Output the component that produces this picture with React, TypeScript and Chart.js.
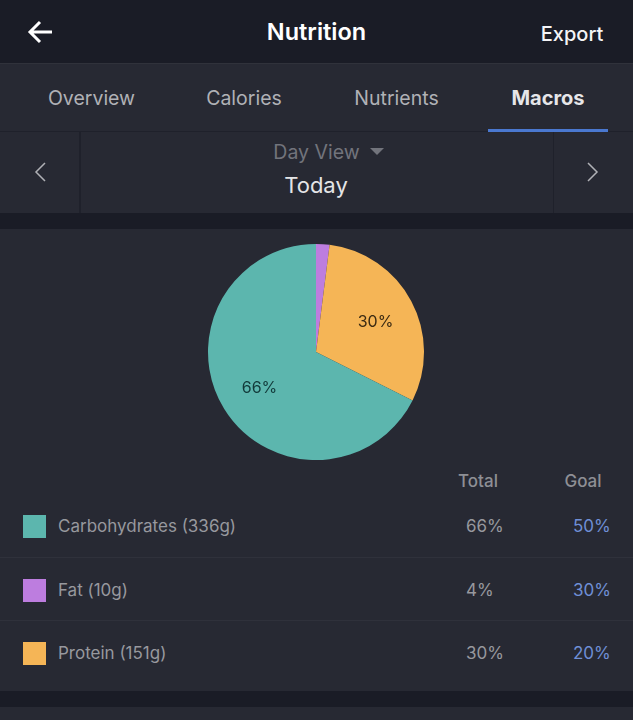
import React, { useEffect, useRef } from 'react';
import { Chart, registerables } from 'chart.js';

Chart.register(...registerables);

// slices are by grams, starting at 12 o'clock
const sliceNames = ['Fat', 'Protein', 'Carbohydrates'];
const sliceGrams = [10, 151, 336];
const sliceLabels = ['', '30%', '66%'];
const sliceColors = ['#bd7ddf', '#f5b556', '#5cb6ae'];

const rowNames = ['Carbohydrates (336g)', 'Fat (10g)', 'Protein (151g)'];
const rowColors = ['#5cb6ae', '#bd7ddf', '#f5b556'];
const rowTotals = ['66%', '4%', '30%'];
const rowGoals = ['50%', '30%', '20%'];

const tabs = ['Overview', 'Calories', 'Nutrients', 'Macros'];
const tabCenters = [91.5, 244, 396.5, 548];

const FONT = 'Inter, "Noto Sans", sans-serif';

const sliceLabelPlugin = {
  id: 'sliceLabels',
  afterDatasetsDraw(chart: any) {
    const { ctx } = chart;
    chart.getDatasetMeta(0).data.forEach((arc: any, i: number) => {
      if (!sliceLabels[i]) return;
      const { startAngle, endAngle, outerRadius, x, y } = arc.getProps(
        ['startAngle', 'endAngle', 'outerRadius', 'x', 'y'],
        true
      );
      const mid = (startAngle + endAngle) / 2;
      const r = outerRadius * 0.62;
      ctx.save();
      ctx.font = `16px ${FONT}`;
      ctx.fillStyle = i === 1 ? '#3a2a12' : '#123a3a';
      ctx.textAlign = 'center';
      ctx.textBaseline = 'middle';
      ctx.fillText(sliceLabels[i], x + Math.cos(mid) * r + 0.5, y + Math.sin(mid) * r + 1.5);
      ctx.restore();
    });
  },
};

const Text = ({ x, y, size, color, weight = 400, center = false, children }: any) => (
  <div
    style={{
      position: 'absolute',
      left: x,
      top: y - 20,
      height: 40,
      lineHeight: '40px',
      fontSize: size,
      fontWeight: weight,
      color,
      whiteSpace: 'nowrap',
      transform: center ? 'translateX(-50%)' : undefined,
    }}
  >
    {children}
  </div>
);

const Box = ({ x, y, w, h, color }: any) => (
  <div style={{ position: 'absolute', left: x, top: y, width: w, height: h, background: color }} />
);

const App: React.FC = () => {
  const chartRef = useRef<HTMLCanvasElement>(null);

  useEffect(() => {
    document.body.style.margin = '0';
    if (!chartRef.current) return;
    const chart = new Chart(chartRef.current, {
      type: 'pie',
      data: {
        labels: sliceNames,
        datasets: [
          {
            data: sliceGrams,
            backgroundColor: sliceColors,
            borderWidth: 0,
            radius: 108,
          },
        ],
      },
      options: {
        animation: false,
        responsive: false,
        plugins: { legend: { display: false }, tooltip: { enabled: false } },
      },
      plugins: [sliceLabelPlugin],
    });
    return () => chart.destroy();
  }, []);

  return (
    <div
      style={{
        position: 'relative',
        width: 633,
        height: 720,
        overflow: 'hidden',
        background: '#272933',
        fontFamily: FONT,
      }}
    >
      <Box x={0} y={0} w={633} h={63} color="#1a1c26" />
      <Box x={0} y={63} w={633} h={1} color="#30323b" />
      <svg style={{ position: 'absolute', left: 25, top: 18 }} width={32} height={28} fill="none" stroke="#fff" strokeWidth={3}>
        <path d="M27 14 H6 M15 4 L5 14 L15 24" />
      </svg>
      <Text x={316.5} y={32} size={23.5} weight={600} color="#ffffff" center>Nutrition</Text>
      <Text x={572} y={33.5} size={20} weight={500} color="#f4f4f6" center>Export</Text>

      {tabs.map((t, i) => (
        <Text key={t} x={tabCenters[i]} y={98} size={t === 'Macros' ? 20 : 19.5} weight={t === 'Macros' ? 700 : 400} color={t === 'Macros' ? '#e6e6e9' : '#b0b1b6'} center>
          {t}
        </Text>
      ))}
      <Box x={0} y={131} w={633} h={1} color="#1f212b" />
      <Box x={488} y={129} w={120} h={3} color="#4a78d0" />

      <Box x={79} y={132} w={2} h={81} color="#1f212b" />
      <Box x={553} y={132} w={1} h={81} color="#1f212b" />
      <svg style={{ position: 'absolute', left: 30, top: 160 }} width={20} height={24} fill="none" stroke="#b0b1b6" strokeWidth={1.5}>
        <path d="M15 3 L6 12 L15 21" />
      </svg>
      <svg style={{ position: 'absolute', left: 583, top: 160 }} width={20} height={24} fill="none" stroke="#b0b1b6" strokeWidth={1.5}>
        <path d="M5 3 L14 12 L5 21" />
      </svg>
      <Text x={316.5} y={152} size={19.5} color="#72747c" center>Day View</Text>
      <svg style={{ position: 'absolute', left: 370, top: 148 }} width={14} height={8}>
        <path d="M0 0 H14 L7 7 Z" fill="#72747c" />
      </svg>
      <Text x={316} y={185} size={22} color="#e4e5e7" center>Today</Text>

      <Box x={0} y={213} w={633} h={16} color="#1a1c26" />

      <canvas ref={chartRef} width={240} height={240} style={{ position: 'absolute', left: 196, top: 232 }} />

      <Text x={478} y={481} size={17} weight={500} color="#8e8f95" center>Total</Text>
      <Text x={583} y={481} size={17} weight={500} color="#8e8f95" center>Goal</Text>

      {rowNames.map((name, i) => {
        const y = [526, 590, 653][i];
        return (
          <React.Fragment key={name}>
            <Box x={23} y={y - 11.5} w={23} h={23} color={rowColors[i]} />
            <Text x={58} y={y} size={17} color="#97989e">{name}</Text>
            <Text x={466} y={y} size={17} color="#97989e">{rowTotals[i]}</Text>
            <Text x={573} y={y} size={17} color="#6f8fd6">{rowGoals[i]}</Text>
          </React.Fragment>
        );
      })}
      <Box x={0} y={557} w={633} h={1} color="#2f313b" />
      <Box x={0} y={620} w={633} h={1} color="#2f313b" />

      <Box x={0} y={691} w={633} h={16} color="#1a1c26" />
    </div>
  );
};

export default App;
